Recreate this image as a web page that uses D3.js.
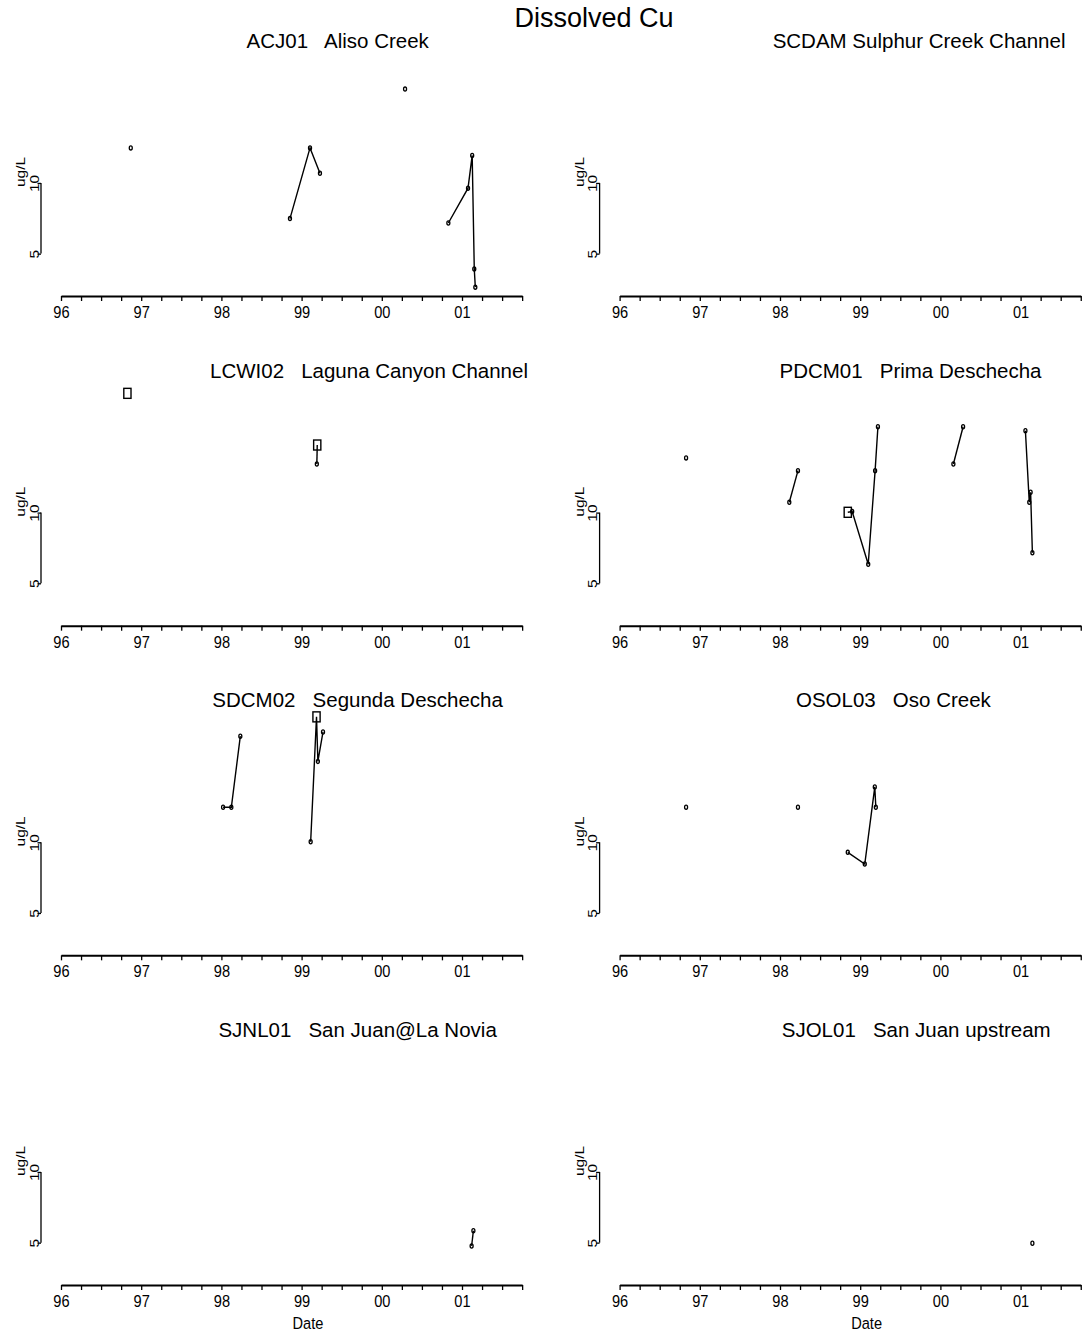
<!DOCTYPE html>
<html>
<head>
<meta charset="utf-8">
<script src="https://cdn.jsdelivr.net/npm/d3@7"></script>
<style>
  html, body { margin: 0; padding: 0; background: #fff; }
  svg { display: block; font-family: "Liberation Sans", Arial, Helvetica, sans-serif; }
  .ptitle { white-space: pre; }
</style>
</head>
<body>
<svg id="chart" width="1083" height="1334"></svg>
<script>
// Dissolved copper at eight monitoring stations, 1996-2001.
// Dates are decimal years; flag "o" = measured value, "b" = boxed (qualified) value.

const mainTitle = "Dissolved Cu";
const stationTitles = [
  "ACJ01   Aliso Creek",
  "SCDAM Sulphur Creek Channel",
  "LCWI02   Laguna Canyon Channel",
  "PDCM01   Prima Deschecha",
  "SDCM02   Segunda Deschecha",
  "OSOL03   Oso Creek",
  "SJNL01   San Juan@La Novia",
  "SJOL01   San Juan upstream"
];
const yearTicks = [1996, 1997, 1998, 1999, 2000, 2001];
const yearTickLabels = ["96", "97", "98", "99", "00", "01"];
const valueTicks = [5, 10];
const yLabel = "ug/L";
const xLabel = "Date";

const acj01Date  = [1996.87, 1998.855, 1999.105, 1999.229, 2000.29, 2000.83, 2001.075, 2001.127, 2001.153, 2001.166];
const acj01Value = [14.1, 7.05, 14.1, 11.0, 25.1, 6.75, 9.5, 13.1, 4.3, 3.6];
const acj01Flag  = ["o", "o", "o", "o", "o", "o", "o", "o", "o", "o"];

const scdamDate  = [];
const scdamValue = [];
const scdamFlag  = [];

const lcwi02Date  = [1996.828, 1999.19, 1999.195];
const lcwi02Value = [32.2, 16.1, 19.4];
const lcwi02Flag  = ["b", "o", "b"];

const pdcm01Date  = [1996.829, 1998.116, 1998.224, 1998.845, 1998.9, 1999.1, 1999.186, 1999.221, 2000.162, 2000.283, 2001.06, 2001.108, 2001.125, 2001.147];
const pdcm01Value = [17.1, 11.07, 15.09, 10.03, 10.1, 6.03, 15.09, 23.2, 16.1, 23.2, 22.3, 11.07, 12.2, 6.75];
const pdcm01Flag  = ["o", "o", "o", "b", "o", "o", "o", "o", "o", "o", "o", "o", "o", "o"];

const sdcm02Date  = [1998.021, 1998.124, 1998.236, 1999.113, 1999.186, 1999.203, 1999.267];
const sdcm02Value = [14.1, 14.1, 28.3, 10.05, 34.2, 22.1, 29.5];
const sdcm02Flag  = ["o", "o", "o", "o", "b", "o", "o"];

const osol03Date  = [1996.829, 1998.224, 1998.845, 1999.057, 1999.182, 1999.195];
const osol03Value = [14.1, 14.1, 9.06, 8.08, 17.2, 14.1];
const osol03Flag  = ["o", "o", "o", "o", "o", "o"];

const sjnl01Date  = [2001.12, 2001.142];
const sjnl01Value = [4.84, 5.62];
const sjnl01Flag  = ["o", "o"];

const sjol01Date  = [2001.147];
const sjol01Value = [4.97];
const sjol01Flag  = ["o"];

const stationDates  = [acj01Date, scdamDate, lcwi02Date, pdcm01Date, sdcm02Date, osol03Date, sjnl01Date, sjol01Date];
const stationValues = [acj01Value, scdamValue, lcwi02Value, pdcm01Value, sdcm02Value, osol03Value, sjnl01Value, sjol01Value];
const stationFlags  = [acj01Flag, scdamFlag, lcwi02Flag, pdcm01Flag, sdcm02Flag, osol03Flag, sjnl01Flag, sjol01Flag];

// ---- layout ----
const svg = d3.select("#chart");
const colAxisX = [41, 599.6];          // y-axis line position per column
const firstAxisY = 296, rowStep = 329.67;
const pxPerYear = 80.2;
const plotHeight = 246.5;
const xStart = 1996, xEnd = 2001.75;
const narrow = 0.86;                   // horizontally condensed axis lettering

svg.append("text")
  .attr("x", 594).attr("y", 26.5)
  .attr("text-anchor", "middle")
  .attr("font-size", 27)
  .text(mainTitle);

// water year: Oct 1 starts the next year's season
const waterYear = t => Math.floor(t + 0.25);

stationTitles.forEach((title, i) => {
  const col = i % 2, row = Math.floor(i / 2);
  const ax = colAxisX[col];
  const axisY = firstAxisY + rowStep * row;
  const x0 = ax + 20;

  const x = d3.scaleLinear().domain([xStart, xEnd]).range([x0, x0 + (xEnd - xStart) * pxPerYear]);
  const y = d3.scaleLog().domain([3.3, 37]).range([axisY, axisY - plotHeight]);

  const g = svg.append("g");

  // panel title (field padded to a fixed width, then centred)
  g.append("text")
    .attr("class", "ptitle")
    .attr("x", ax + 328).attr("y", axisY - 248)
    .attr("text-anchor", "middle")
    .attr("font-size", 20.5)
    .text(title.padEnd(30, " "));

  // x axis with quarter-year ticks
  const qTicks = d3.range(0, 24).map(k => xStart + k * 0.25);
  const xAxis = d3.axisBottom(x)
    .tickValues(qTicks)
    .tickSize(5)
    .tickSizeOuter(0)
    .tickPadding(5)
    .tickFormat(d => {
      const k = yearTicks.indexOf(d);
      return k >= 0 ? yearTickLabels[k] : "";
    });
  const xg = g.append("g").attr("transform", `translate(0,${axisY})`).call(xAxis);
  xg.select(".domain").attr("stroke", "#000").attr("stroke-width", 2);
  xg.selectAll(".tick line").attr("stroke", "#000").attr("stroke-width", 1.3);
  xg.selectAll(".tick text")
    .attr("font-size", 17).attr("font-family", null).attr("fill", "#000")
    .attr("transform", `scale(${narrow},1)`);

  // y axis: line only between the labelled ticks
  const yAxis = d3.axisLeft(y).tickValues(valueTicks).tickSize(3.5).tickFormat(d3.format("d"));
  const yg = g.append("g").attr("transform", `translate(${ax},0)`).call(yAxis);
  yg.select(".domain").remove();
  yg.append("line")
    .attr("x1", 0).attr("x2", 0)
    .attr("y1", y(valueTicks[0])).attr("y2", y(valueTicks[valueTicks.length - 1]))
    .attr("stroke", "#000").attr("stroke-width", 1.3);
  yg.selectAll(".tick line").attr("stroke", "#000").attr("stroke-width", 1.3);
  yg.selectAll(".tick text")
    .attr("font-size", 15.5).attr("font-family", null).attr("fill", "#000")
    .attr("transform", `rotate(-90) scale(1,${narrow})`)
    .attr("x", 0).attr("y", -2.8).attr("dy", 0)
    .attr("text-anchor", "middle");

  g.append("text")
    .attr("transform", `translate(${ax - 16},${axisY - 124}) rotate(-90) scale(1,${narrow})`)
    .attr("text-anchor", "middle")
    .attr("font-size", 15.5)
    .text(yLabel);

  if (row === 3) {
    g.append("text")
      .attr("transform", `translate(${ax + 267},${axisY + 44}) scale(${narrow},1)`)
      .attr("text-anchor", "middle")
      .attr("font-size", 17)
      .text(xLabel);
  }

  // data
  const pts = stationDates[i].map((t, k) => ({ t, v: stationValues[i][k], f: stationFlags[i][k] }));
  const groups = d3.groups(pts, p => waterYear(p.t));
  const line = d3.line().x(p => x(p.t)).y(p => y(p.v));
  groups.forEach(([, gp]) => {
    if (gp.length > 1) {
      g.append("path").attr("d", line(gp))
        .attr("fill", "none").attr("stroke", "#000").attr("stroke-width", 1.4);
    }
  });
  g.selectAll("ellipse.pt").data(pts.filter(p => p.f === "o")).join("ellipse")
    .attr("class", "pt")
    .attr("cx", p => x(p.t)).attr("cy", p => y(p.v))
    .attr("rx", 1.5).attr("ry", 2.1)
    .attr("fill", "none").attr("stroke", "#000").attr("stroke-width", 1.3);
  g.selectAll("rect.bx").data(pts.filter(p => p.f === "b")).join("rect")
    .attr("class", "bx")
    .attr("x", p => x(p.t) - 3.6).attr("y", p => y(p.v) - 5)
    .attr("width", 7.2).attr("height", 10)
    .attr("fill", "none").attr("stroke", "#000").attr("stroke-width", 1.4);
});
</script>
</body>
</html>
